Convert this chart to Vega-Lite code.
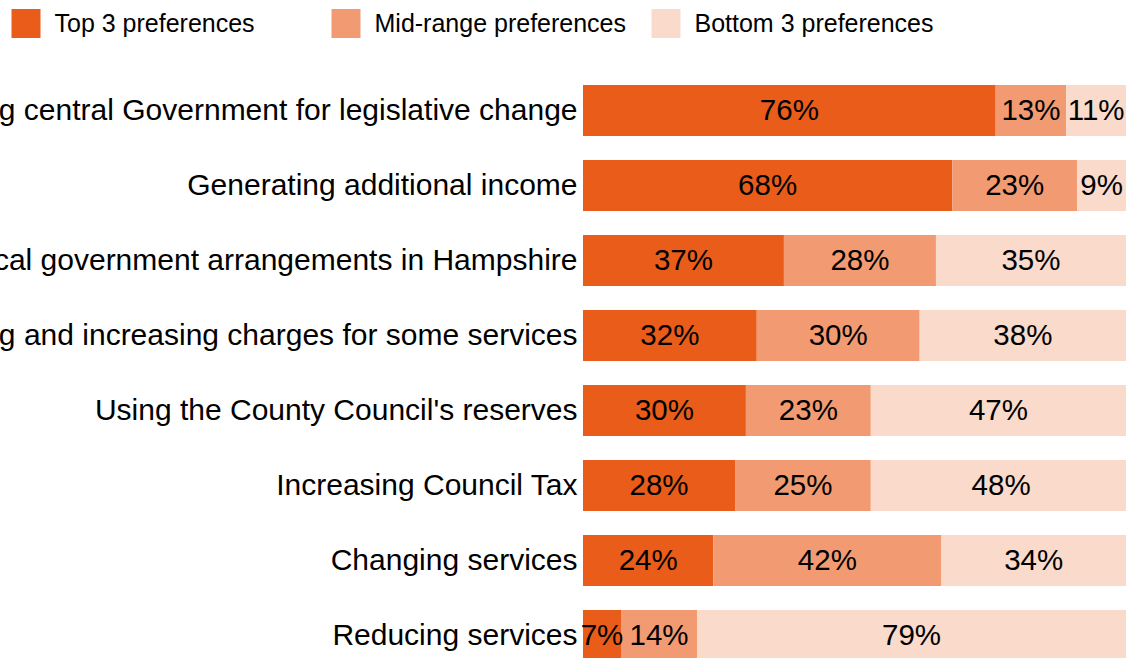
{
  "$schema": "https://vega.github.io/schema/vega-lite/v6.json",
  "width": 543,
  "height": 585,
  "autosize": "none",
  "padding": {"left": 583, "top": 73, "right": 0, "bottom": 0},
  "background": "white",
  "config": {"view": {"stroke": null}, "font": "Liberation Sans"},
  "data": {
    "values": [
      {"option": "Lobbying central Government for legislative change", "pref": "Top 3 preferences", "k": 1, "pct": 0.76},
      {"option": "Lobbying central Government for legislative change", "pref": "Mid-range preferences", "k": 2, "pct": 0.13},
      {"option": "Lobbying central Government for legislative change", "pref": "Bottom 3 preferences", "k": 3, "pct": 0.11},
      {"option": "Generating additional income", "pref": "Top 3 preferences", "k": 1, "pct": 0.68},
      {"option": "Generating additional income", "pref": "Mid-range preferences", "k": 2, "pct": 0.23},
      {"option": "Generating additional income", "pref": "Bottom 3 preferences", "k": 3, "pct": 0.09},
      {"option": "Changing local government arrangements in Hampshire", "pref": "Top 3 preferences", "k": 1, "pct": 0.37},
      {"option": "Changing local government arrangements in Hampshire", "pref": "Mid-range preferences", "k": 2, "pct": 0.28},
      {"option": "Changing local government arrangements in Hampshire", "pref": "Bottom 3 preferences", "k": 3, "pct": 0.35},
      {"option": "Introducing and increasing charges for some services", "pref": "Top 3 preferences", "k": 1, "pct": 0.32},
      {"option": "Introducing and increasing charges for some services", "pref": "Mid-range preferences", "k": 2, "pct": 0.30},
      {"option": "Introducing and increasing charges for some services", "pref": "Bottom 3 preferences", "k": 3, "pct": 0.38},
      {"option": "Using the County Council's reserves", "pref": "Top 3 preferences", "k": 1, "pct": 0.30},
      {"option": "Using the County Council's reserves", "pref": "Mid-range preferences", "k": 2, "pct": 0.23},
      {"option": "Using the County Council's reserves", "pref": "Bottom 3 preferences", "k": 3, "pct": 0.47},
      {"option": "Increasing Council Tax", "pref": "Top 3 preferences", "k": 1, "pct": 0.28},
      {"option": "Increasing Council Tax", "pref": "Mid-range preferences", "k": 2, "pct": 0.25},
      {"option": "Increasing Council Tax", "pref": "Bottom 3 preferences", "k": 3, "pct": 0.48},
      {"option": "Changing services", "pref": "Top 3 preferences", "k": 1, "pct": 0.24},
      {"option": "Changing services", "pref": "Mid-range preferences", "k": 2, "pct": 0.42},
      {"option": "Changing services", "pref": "Bottom 3 preferences", "k": 3, "pct": 0.34},
      {"option": "Reducing services", "pref": "Top 3 preferences", "k": 1, "pct": 0.07},
      {"option": "Reducing services", "pref": "Mid-range preferences", "k": 2, "pct": 0.14},
      {"option": "Reducing services", "pref": "Bottom 3 preferences", "k": 3, "pct": 0.79}
    ]
  },
  "encoding": {
    "y": {
      "field": "option", "type": "nominal", "sort": null, "title": null,
      "scale": {"range": [0, 600], "paddingInner": 0.32, "paddingOuter": 0.16},
      "axis": {"domain": false, "ticks": false, "labelFontSize": 30, "labelColor": "#000000", "labelPadding": 6, "labelLimit": 2000, "labelFont": "Liberation Sans"}
    },
    "order": {"field": "k", "type": "quantitative"}
  },
  "layer": [
    {
      "mark": {"type": "bar"},
      "encoding": {
        "x": {"field": "pct", "type": "quantitative", "stack": "zero", "scale": {"domain": [0, 1], "nice": false}, "axis": null},
        "color": {
          "field": "pref", "type": "nominal",
          "scale": {"domain": ["Top 3 preferences", "Mid-range preferences", "Bottom 3 preferences"], "range": ["#E95C19", "#F29B72", "#F9DACB"]},
          "legend": {
            "title": null, "orient": "none", "direction": "horizontal", "legendX": -571.5, "legendY": -64,
            "symbolType": "square", "symbolSize": 841, "symbolStrokeWidth": 0, "symbolOpacity": 1,
            "labelFontSize": 25, "labelColor": "#000000", "labelFont": "Liberation Sans", "labelOffset": 14,
            "columnPadding": 25, "gridAlign": "all", "padding": 0, "labelLimit": 1000
          }
        }
      }
    },
    {
      "mark": {"type": "text", "fontSize": 29.5, "color": "#000000", "baseline": "middle", "align": "center"},
      "encoding": {
        "x": {"field": "pct", "type": "quantitative", "stack": "zero", "bandPosition": 0.5},
        "text": {"field": "pct", "type": "quantitative", "format": ".0%"}
      }
    }
  ]
}
